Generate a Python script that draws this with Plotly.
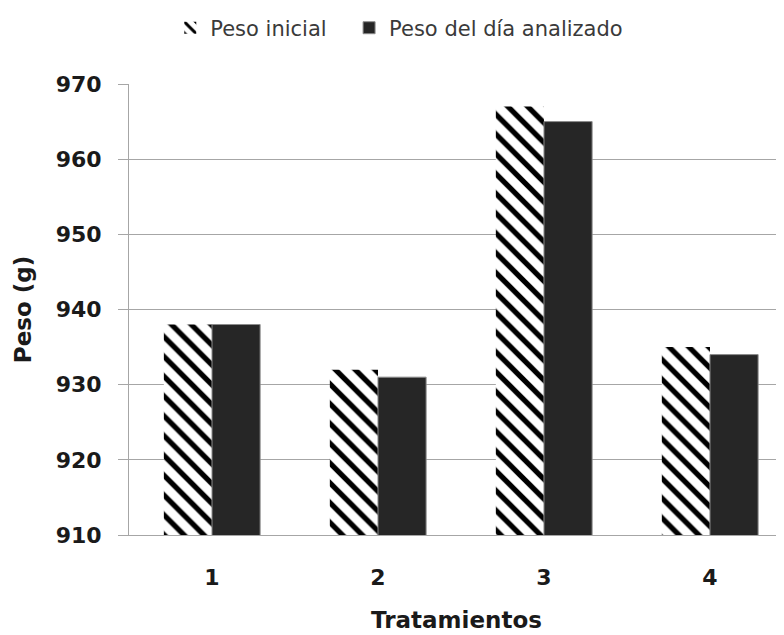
import plotly.graph_objects as go

categories = ["1", "2", "3", "4"]
peso_inicial = [938, 932, 967, 935]
peso_analizado = [938, 931, 965, 934]
series_names = ["Peso inicial", "Peso del día analizado"]
y_ticks = [910, 920, 930, 940, 950, 960, 970]

FONT = "'DejaVu Sans', Verdana, sans-serif"
LEG_FONT = dict(size=21, color="#3a3a3a", family=FONT)

fig = go.Figure()
fig.add_trace(go.Bar(
    x=categories, y=peso_inicial, name=series_names[0], legend="legend", showlegend=True,
    marker=dict(color="white", line=dict(width=0),
                pattern=dict(shape="\\", fgcolor="black", bgcolor="white",
                             size=14, solidity=0.38, fillmode="replace")),
))
fig.add_trace(go.Bar(
    x=categories, y=peso_analizado, name=series_names[1], legend="legend2", showlegend=True,
    marker=dict(color="#262626", line=dict(width=1, color="#8c8c8c")),
))

# page body adds 8px offset; compensate so the plot sits at the reference position
fig.update_layout(
    width=776, height=627, showlegend=True,
    margin=dict(l=121, r=0, t=76, b=100, autoexpand=False),
    paper_bgcolor="white", plot_bgcolor="white",
    barmode="group", bargap=0.42, bargroupgap=0,
    font=dict(family=FONT, color="#1a1a1a"),
    legend=dict(orientation="h", x=0.063, xanchor="left", y=1.124, yanchor="middle",
                font=LEG_FONT, itemwidth=30, bgcolor="rgba(0,0,0,0)", visible=True),
    legend2=dict(orientation="h", x=0.336, xanchor="left", y=1.124, yanchor="middle",
                 font=LEG_FONT, itemwidth=30, bgcolor="rgba(0,0,0,0)", visible=True),
    xaxis=dict(
        type="category", range=[-0.5, 3.446], automargin=False,
        showgrid=False, showline=True, linecolor="#a6a6a6", linewidth=1,
        ticks="outside", ticklen=0, ticklabelstandoff=23,
        tickfont=dict(size=22, color="#1a1a1a", family=FONT, weight="bold"),
        title=dict(text="<b>Tratamientos</b>", font=dict(size=23, color="#1a1a1a", family=FONT), standoff=22),
    ),
    yaxis=dict(
        range=[910, 970], tickvals=y_ticks, automargin=False,
        showgrid=True, gridcolor="#a6a6a6", gridwidth=1,
        showline=True, linecolor="#a6a6a6", linewidth=1,
        ticks="outside", ticklen=10, tickcolor="#a6a6a6", ticklabelstandoff=12,
        tickfont=dict(size=22, color="#1a1a1a", family=FONT, weight="bold"),
        title=dict(text="<b>Peso (g)</b>", font=dict(size=23, color="#1a1a1a", family=FONT), standoff=17),
        zeroline=False,
    ),
)
fig.write_html("out.html")
